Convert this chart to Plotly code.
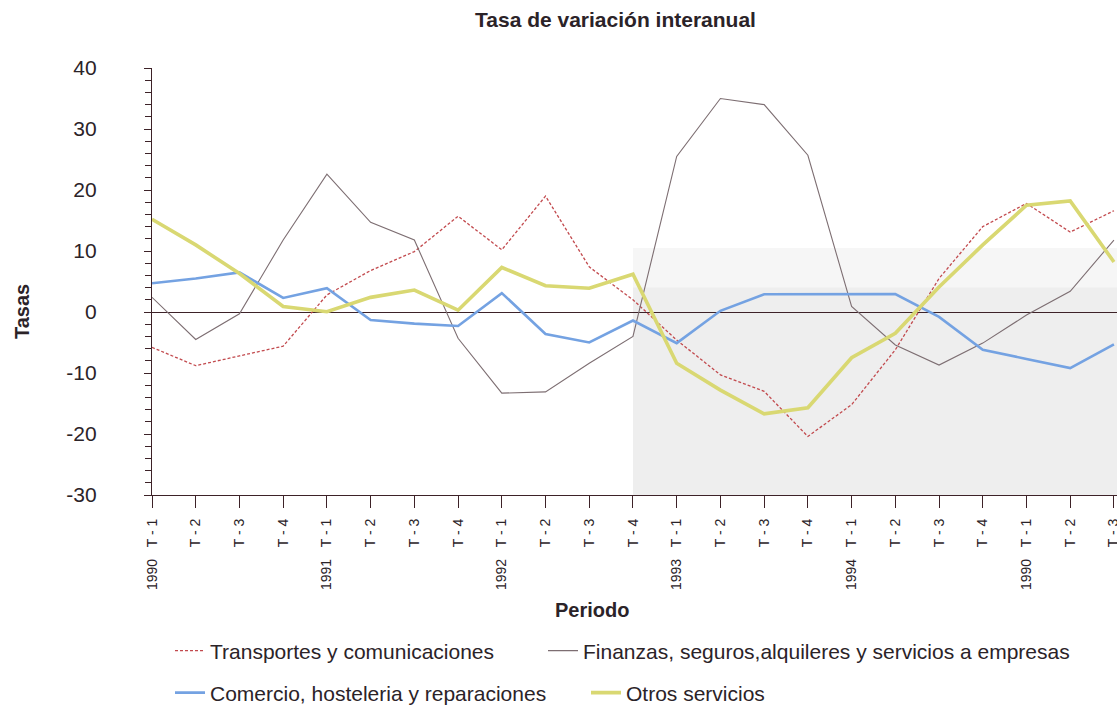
import plotly.graph_objects as go

# Quarterly periods and tick labels
periods = list(range(23))
SEP = "\u00a0\u00a0\u00a0"
tick_labels = [
    "1990" + SEP + "T - 1", "T - 2", "T - 3", "T - 4",
    "1991" + SEP + "T - 1", "T - 2", "T - 3", "T - 4",
    "1992" + SEP + "T - 1", "T - 2", "T - 3", "T - 4",
    "1993" + SEP + "T - 1", "T - 2", "T - 3", "T - 4",
    "1994" + SEP + "T - 1", "T - 2", "T - 3", "T - 4",
    "1990" + SEP + "T - 1", "T - 2", "T - 3",
]
y_ticks = [-30, -20, -10, 0, 10, 20, 30, 40]
y_tick_labels = ["-30", "-20", "-10", "0", "10", "20", "30", "40"]

# Year-on-year rates by sector
transportes = [-5.8, -8.8, -7.2, -5.6, 2.8, 6.8, 9.9, 15.7, 10.2, 19.0, 7.4, 2.0,
               -4.6, -10.3, -13.0, -20.4, -15.2, -6.2, 5.5, 14.0, 17.8, 13.1, 16.6]
finanzas = [2.4, -4.5, -0.3, 11.8, 22.6, 14.7, 11.8, -4.3, -13.3, -13.1, -8.4, -4.0,
            25.5, 35.0, 34.0, 25.7, 0.9, -5.4, -8.7, -5.1, -0.5, 3.4, 11.8]
comercio = [4.7, 5.5, 6.5, 2.3, 3.9, -1.3, -1.9, -2.3, 3.1, -3.6, -5.0, -1.4,
            -5.1, 0.2, 2.9, 2.9, 2.9, 2.95, -0.8, -6.2, -7.7, -9.2, -5.3]
otros = [15.2, 11.0, 6.3, 0.9, 0.05, 2.4, 3.6, 0.3, 7.3, 4.3, 3.9, 6.2,
         -8.4, -12.8, -16.7, -15.7, -7.5, -3.5, 4.1, 11.0, 17.5, 18.2, 8.2]

FONT = "Liberation Sans, Arial, sans-serif"
INK = "#2b2328"
AXIS = "#3d2228"

fig = go.Figure()

fig.add_trace(go.Scatter(
    x=periods, y=transportes, mode="lines", name="Transportes y comunicaciones",
    line=dict(color="#c24a4e", width=1.3, dash="3px,2px"), legend="legend"))
fig.add_trace(go.Scatter(
    x=periods, y=finanzas, mode="lines",
    name="Finanzas, seguros,alquileres y servicios a empresas",
    line=dict(color="#7d6e72", width=1.1), legend="legend2"))
fig.add_trace(go.Scatter(
    x=periods, y=comercio, mode="lines", name="Comercio, hosteleria y reparaciones",
    line=dict(color="#74a2e2", width=2.6), legend="legend3"))
fig.add_trace(go.Scatter(
    x=periods, y=otros, mode="lines", name="Otros servicios",
    line=dict(color="#d9d872", width=3.6), legend="legend4"))

# Faint shaded band on the right part of the plot area
fig.add_shape(type="rect", xref="x", yref="y", x0=11, x1=22.07, y0=-30, y1=10.5,
              fillcolor="#f6f6f6", line_width=0, layer="below")
fig.add_shape(type="rect", xref="x", yref="y", x0=11, x1=22.07, y0=-30, y1=4,
              fillcolor="#eeeeee", line_width=0, layer="below")

# Legend rows placed in figure (container) coordinates
legend_common = dict(orientation="h", xanchor="left", yanchor="middle",
                     xref="container", yref="container",
                     bgcolor="rgba(0,0,0,0)", borderwidth=0,
                     font=dict(family=FONT, size=21, color=INK))
row1 = 1 - 651 / 706
row2 = 1 - 693 / 706
fig.update_layout(
    showlegend=True,
    legend=dict(x=170 / 1117, y=row1, **legend_common),
    legend2=dict(x=543 / 1117, y=row1, **legend_common),
    legend3=dict(x=170 / 1117, y=row2, **legend_common),
    legend4=dict(x=586 / 1117, y=row2, **legend_common),
)

fig.update_xaxes(
    range=[0, 22.07], tickmode="array", tickvals=periods, ticktext=tick_labels,
    tickangle=-90, tickfont=dict(family=FONT, size=14, color=INK),
    ticklabelstandoff=5, ticklabeloverflow="allow",
    showline=True, linecolor=AXIS, linewidth=1.3,
    ticks="outside", ticklen=12, tickwidth=1.3, tickcolor=AXIS,
    showgrid=False, zeroline=False, automargin=False,
)
fig.update_yaxes(
    range=[-30, 40], tickmode="array", tickvals=y_ticks, ticktext=y_tick_labels,
    tickfont=dict(family=FONT, size=21, color=INK),
    showline=True, linecolor=AXIS, linewidth=1.3,
    ticks="outside", ticklen=7, tickwidth=1.3, tickcolor=AXIS,
    ticklabelstandoff=43,
    minor=dict(dtick=2, ticks="outside", ticklen=6, tickwidth=1.2, tickcolor=AXIS),
    showgrid=False, zeroline=True, zerolinecolor=AXIS, zerolinewidth=1.3,
    automargin=False,
)

fig.add_annotation(text="<b>Tasas</b>", xref="paper", yref="y", x=-0.1347, y=0,
                   xanchor="center", yanchor="middle",
                   textangle=-90, showarrow=False,
                   font=dict(family=FONT, size=20, color=INK))
fig.add_annotation(text="<b>Periodo</b>", xref="paper", yref="paper", x=0.456, y=-0.269,
                   xanchor="center", yanchor="middle",
                   showarrow=False, font=dict(family=FONT, size=20, color=INK))

fig.update_layout(
    width=1117, height=706,
    margin=dict(l=152, r=0, t=68, b=211, autoexpand=False),
    paper_bgcolor="white", plot_bgcolor="white",
    title=dict(text="<b>Tasa de variación interanual</b>", x=0.551, xanchor="center",
               y=0.972, yanchor="middle", font=dict(family=FONT, size=21, color=INK)),
    font=dict(family=FONT, color=INK),
)

fig.write_html("out.html")
